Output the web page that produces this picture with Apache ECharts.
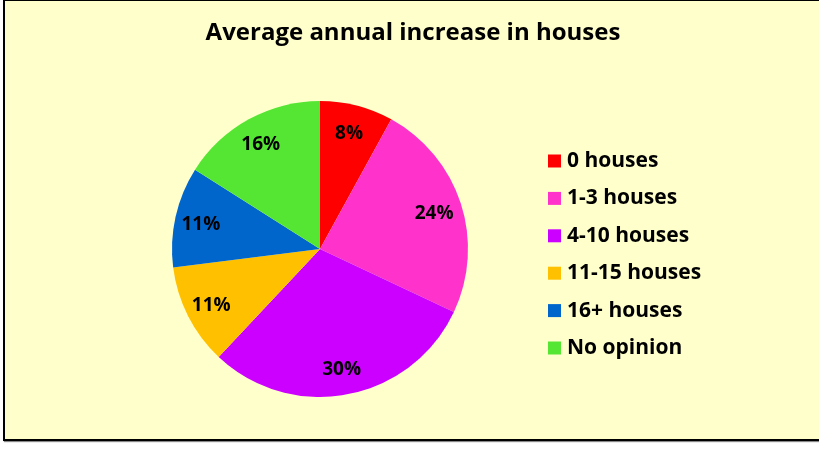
<!DOCTYPE html>
<html>
<head>
<meta charset="utf-8">
<script src="https://cdn.jsdelivr.net/npm/echarts@6/dist/echarts.min.js"></script>
<style>
html,body{margin:0;padding:0;background:#ffffff;width:819px;height:450px;overflow:hidden;}
#frame{position:absolute;left:3px;top:-1px;width:830px;height:442px;background:#FFFFCC;border:2px solid #000;box-sizing:border-box;box-shadow:1px 1px 1px #888;}
#chart{position:absolute;left:0;top:0;width:819px;height:450px;}
</style>
</head>
<body>
<div id="frame"></div>
<div id="chart"></div>
<script>
const title = 'Average annual increase in houses';
const categories = ['0 houses', '1-3 houses', '4-10 houses', '11-15 houses', '16+ houses', 'No opinion'];
const values = [8, 24, 30, 11, 11, 16];
const colors = ['#FF0000', '#FF33CC', '#CC00FF', '#FFC000', '#0066CC', '#55E633'];

const font = '"Open Sans", Lato, sans-serif';
const chart = echarts.init(document.getElementById('chart'), null, {renderer: 'canvas'});
const mainData = categories.map((c, i) => ({name: c, value: values[i], itemStyle: {color: colors[i]}}));
const labelData = categories.map((c, i) => ({name: c, value: values[i]}));
chart.setOption({
  backgroundColor: 'transparent',
  animation: false,
  title: {
    text: title, left: 408, top: 16, textAlign: 'center',
    textStyle: {fontFamily: font, fontWeight: 'bold', fontSize: 24, color: '#000'}
  },
  legend: {
    orient: 'vertical', left: 543, top: 145,
    icon: 'rect', itemWidth: 13, itemHeight: 13, itemGap: 15.4,
    data: categories,
    textStyle: {fontFamily: font, fontWeight: 'bold', fontSize: 21, color: '#000', lineHeight: 22, padding: [0,0,0,1]},
    selectedMode: false
  },
  series: [
    {
      type: 'pie', center: [320, 249], radius: [0, 148], startAngle: 90, clockwise: true,
      data: mainData, label: {show: false}, labelLine: {show: false}, silent: true,
      itemStyle: {borderWidth: 0}
    },
    {
      type: 'pie', center: [320, 249], radius: [88, 148], startAngle: 90, clockwise: true,
      data: labelData, silent: true, legendHoverLink: false,
      itemStyle: {color: 'rgba(0,0,0,0)', borderWidth: 0},
      labelLine: {show: false},
      label: {show: true, position: 'inside', formatter: '{c}%', offset: [-1, 2], fontFamily: font, fontWeight: 'bold', fontSize: 19, color: '#000'}
    }
  ]
});
</script>
</body>
</html>
